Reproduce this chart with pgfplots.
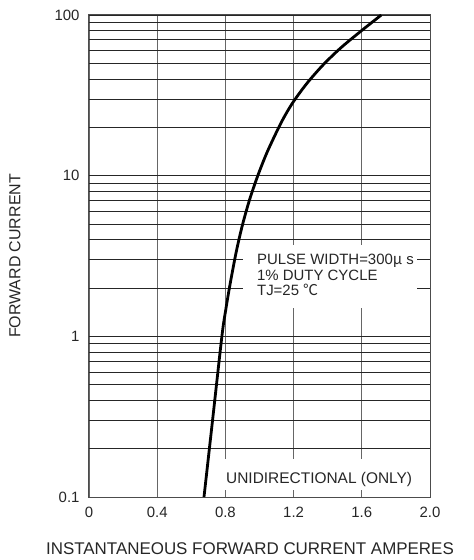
\documentclass[border=0pt]{standalone}
\usepackage{fontspec}
\setmainfont{Liberation Sans}
\newfontfamily\cjk{Noto Sans CJK SC}
\usepackage{pgfplots}
\pgfplotsset{compat=1.18}
\usetikzlibrary{calc}
\begin{document}
\begin{tikzpicture}
\begin{axis}[
  name=ax,
  scale only axis,
  width=341bp, height=482bp,
  xmin=0, xmax=2, ymin=0.1, ymax=100,
  ymode=log,
  xtick={0,0.4,0.8,1.2,1.6,2.0},
  xticklabels={0,0.4,0.8,1.2,1.6,2.0},
  ytick={0.1,1,10,100},
  yticklabels={0.1,1,10,100},
  minor ytick={0.2,0.3,0.4,0.5,0.6,0.7,0.8,0.9,2,3,4,5,6,7,8,9,20,30,40,50,60,70,80,90},
  xmajorgrids, ymajorgrids, yminorgrids,
  x grid style={black!60, line width=0.9bp},
  y grid style={black!85, line width=0.8bp},
  major tick length=0pt, minor tick length=0pt,
  axis line style={black!70, line width=1bp},
  xticklabel style={font=\fontsize{15}{15}\selectfont, text=black!85, yshift=-7bp},
  yticklabel style={font=\fontsize{15}{15}\selectfont, text=black!85, xshift=-6bp},
  xlabel={INSTANTANEOUS FORWARD CURRENT AMPERES},
  xlabel style={font=\fontsize{17}{17}\selectfont, text=black!85, at={(rel axis cs:0.472,-0.1203)}, anchor=base},
  ylabel={FORWARD CURRENT},
  ylabel style={font=\fontsize{16}{16}\selectfont, text=black!85, at={(rel axis cs:-0.217,0.5)}, anchor=center},
]
\fill[white] (axis cs:0.903,1.51) rectangle (axis cs:1.924,3.72);
\fill[white] (axis cs:0.768,0.1105) rectangle (axis cs:2.0,0.172);
\addplot[black, line width=2.8bp, smooth] coordinates {
(0.6745,0.1) (0.7273,0.3184) (0.7801,1.0144) (0.8006,1.430) (0.8240,2.015)
(0.8557,3.051) (0.8768,3.892) (0.9021,5.033) (0.9419,7.095) (0.9900,10.0)
(1.0434,13.90) (1.1091,19.59) (1.1519,23.92) (1.2023,29.23) (1.2804,37.81)
(1.3730,48.91) (1.4762,62.37) (1.5889,78.43) (1.7144,100)
};
\node[anchor=north west, inner sep=0pt, align=left, font=\fontsize{15}{16}\selectfont, text=black!85]
  at (axis cs:0.985,3.28) {PULSE WIDTH=300{\cjk μ} s\\1\% DUTY CYCLE\\TJ=25 {\cjk ℃}};
\node[anchor=base west, inner sep=0pt, font=\fontsize{15.5}{16}\selectfont, text=black!85]
  at (axis cs:0.8035,0.1222) {UNIDIRECTIONAL (ONLY)};
\end{axis}
\path ($(ax.south west)+(-89bp,-63bp)$) rectangle ($(ax.north east)+(44bp,15bp)$);
\end{tikzpicture}
\end{document}
